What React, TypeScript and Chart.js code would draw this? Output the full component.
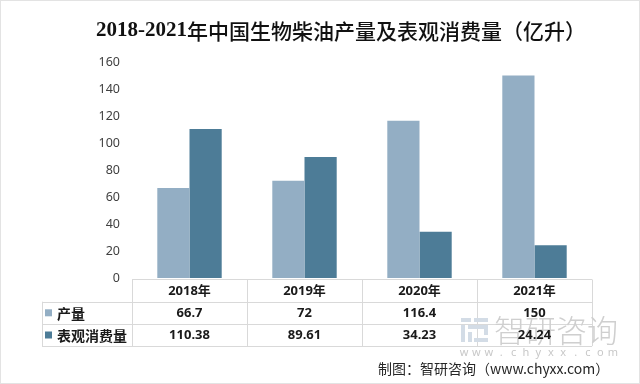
import React, { useEffect, useRef } from "react";
import { Chart, registerables } from "chart.js";

Chart.register(...registerables);

const titleYears = "2018-2021";
const titleRest = "年中国生物柴油产量及表观消费量（亿升）";
const categories = ["2018年", "2019年", "2020年", "2021年"];
const seriesNames = ["产量", "表观消费量"];
const production = [66.7, 72, 116.4, 150];
const consumption = [110.38, 89.61, 34.23, 24.24];
const productionLabels = ["66.7", "72", "116.4", "150"];
const consumptionLabels = ["110.38", "89.61", "34.23", "24.24"];
const yMin = 0;
const yMax = 160;
const yStep = 20;
const sourceText = "制图：智研咨询（www.chyxx.com）";
const watermarkText = "智研咨询";
const watermarkUrl = "www.chyxx.com";

const LIGHT = "#93aec4";
const DARK = "#4d7c97";
const GRID = "#d9d9d9";

const tablePlugin = {
  id: "tablePlugin",
  afterDraw(chart: any) {
    const ctx = chart.ctx as CanvasRenderingContext2D;
    const area = chart.chartArea;
    const xs = chart.scales.x;
    const n = categories.length;
    const left = area.left;
    const right = area.right;
    const colW = (right - left) / n;
    const top = area.bottom + 1.5;
    const rowH = 22.2;
    const keyLeft = 42;

    ctx.save();
    // table lines
    ctx.strokeStyle = GRID;
    ctx.lineWidth = 1;
    ctx.beginPath();
    ctx.moveTo(left, top);
    ctx.lineTo(right, top);
    for (let r = 1; r <= 3; r++) {
      const y = Math.round(top + r * rowH) + 0.5;
      ctx.moveTo(keyLeft, y);
      ctx.lineTo(right, y);
    }
    for (let i = 0; i <= n; i++) {
      const x = Math.round(left + i * colW) + 0.5;
      ctx.moveTo(x, top);
      ctx.lineTo(x, top + 3 * rowH);
    }
    ctx.moveTo(keyLeft + 0.5, top + rowH);
    ctx.lineTo(keyLeft + 0.5, top + 3 * rowH);
    ctx.stroke();

    // watermark (behind text)
    ctx.fillStyle = "#d3dce6";
    const wx = 461;
    const wy = 318;
    ctx.fillRect(wx, wy, 10, 4);
    ctx.fillRect(wx + 13, wy, 14, 4);
    ctx.fillRect(wx, wy + 7, 4, 17);
    ctx.fillRect(wx + 7, wy + 7, 20, 4);
    ctx.fillRect(wx + 23, wy + 7, 4, 10);
    ctx.fillRect(wx + 7, wy + 14, 4, 10);
    ctx.fillRect(wx + 13, wy + 20, 14, 4);
    ctx.fillStyle = "#cfcfcf";
    ctx.font = "300 31px 'Noto Sans CJK SC'";
    ctx.textAlign = "left";
    ctx.textBaseline = "middle";
    ctx.fillText(watermarkText, 494, 330);
    ctx.fillStyle = "#c8c8c8";
    ctx.font = "11px 'Noto Sans'";
    ctx.textAlign = "center";
    const chars = watermarkUrl.split("");
    chars.forEach((ch, i) => {
      ctx.fillText(ch, 464 + i * 12.4, 353);
    });

    // header row
    ctx.fillStyle = "#1a1a1a";
    ctx.textAlign = "center";
    ctx.textBaseline = "middle";
    ctx.font = "bold 13px 'Noto Sans', 'Noto Sans CJK SC'";
    categories.forEach((c, i) => {
      ctx.fillText(c, xs.getPixelForValue(i), top + rowH / 2 + 0.5);
    });
    const rows = [productionLabels, consumptionLabels];
    rows.forEach((vals, r) => {
      const cy = top + rowH * (r + 1) + rowH / 2 + 0.5;
      vals.forEach((v, i) => {
        ctx.fillText(v, xs.getPixelForValue(i), cy);
      });
    });
    // key column
    const colors = [LIGHT, DARK];
    ctx.textAlign = "left";
    ctx.font = "bold 14px 'Noto Sans CJK SC'";
    seriesNames.forEach((s, r) => {
      const cy = top + rowH * (r + 1) + rowH / 2 + 0.5;
      ctx.fillStyle = colors[r];
      ctx.fillRect(keyLeft + 3, cy - 4, 7, 7);
      ctx.fillStyle = "#1a1a1a";
      ctx.fillText(s, keyLeft + 15, cy);
    });

    // title (two runs: bold serif digits + CJK)
    ctx.fillStyle = "#111111";
    ctx.textAlign = "left";
    const f1 = "bold 21px 'Liberation Serif'";
    const f2 = "500 21px 'Noto Sans CJK SC'";
    ctx.font = f1;
    const w1 = ctx.measureText(titleYears).width;
    ctx.font = f2;
    const w2 = ctx.measureText(titleRest).width;
    const tx = 341 - (w1 + w2) / 2;
    ctx.font = f1;
    ctx.fillText(titleYears, tx, 31);
    ctx.font = f2;
    ctx.fillText(titleRest, tx + w1, 31);

    // source
    ctx.fillStyle = "#262626";
    ctx.font = "14px 'Noto Sans CJK SC'";
    ctx.textAlign = "left";
    ctx.fillText(sourceText, 378, 369);

    // outer frame
    ctx.strokeStyle = "#e3e3e3";
    ctx.strokeRect(0.5, 0.5, chart.width - 1, chart.height - 1);
    ctx.restore();
  },
};

export default function App() {
  const ref = useRef<HTMLCanvasElement | null>(null);
  useEffect(() => {
    if (!ref.current) return;
    const chart = new Chart(ref.current, {
      type: "bar",
      data: {
        labels: categories,
        datasets: [
          {
            label: seriesNames[0],
            data: production,
            backgroundColor: LIGHT,
            borderWidth: 0,
            categoryPercentage: 0.56,
            barPercentage: 1,
          },
          {
            label: seriesNames[1],
            data: consumption,
            backgroundColor: DARK,
            borderWidth: 0,
            categoryPercentage: 0.56,
            barPercentage: 1,
          },
        ],
      },
      options: {
        responsive: false,
        animation: false,
        layout: { padding: { top: 62, right: 48, bottom: 106, left: 0 } },
        plugins: {
          legend: { display: false },
          title: { display: false },
          tooltip: { enabled: false },
        },
        scales: {
          x: { display: false },
          y: {
            min: yMin,
            max: yMax,
            ticks: {
              stepSize: yStep,
              padding: 12,
              color: "#404040",
              font: { family: "'Noto Sans'", size: 12.5 },
            },
            grid: { display: false, drawTicks: false },
            border: { display: false },
            afterFit: (scale: any) => {
              scale.width = 132;
            },
          },
        },
      },
      plugins: [
        {
          id: "bg",
          beforeDraw(c: any) {
            const ctx = c.ctx;
            ctx.save();
            ctx.fillStyle = "#ffffff";
            ctx.fillRect(0, 0, c.width, c.height);
            ctx.restore();
          },
        },
        tablePlugin,
      ],
    });
    return () => chart.destroy();
  }, []);
  return (
    <div style={{ position: "fixed", left: 0, top: 0, width: 640, height: 384 }}>
      <canvas ref={ref} width={640} height={384} />
    </div>
  );
}
